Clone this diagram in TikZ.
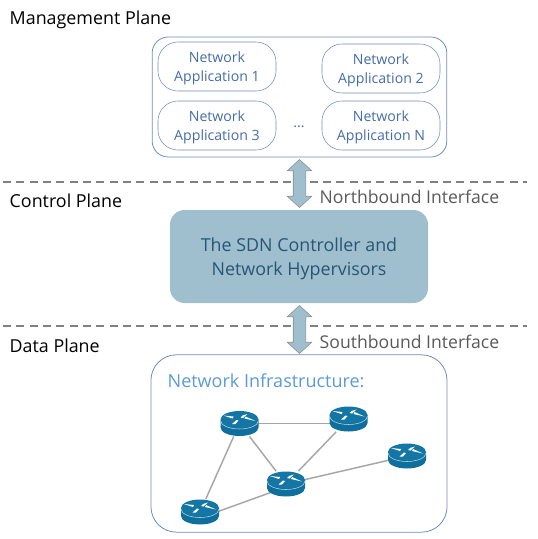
\documentclass[tikz,border=0pt]{standalone}
\usepackage{fontspec}
\setmainfont{Open Sans}
\usetikzlibrary{positioning,shapes.arrows,backgrounds}
\definecolor{appblue}{RGB}{68,108,168}
\definecolor{boxblue}{RGB}{110,140,185}
\definecolor{infrablue}{RGB}{91,155,213}
\definecolor{ctrlfill}{RGB}{160,191,206}
\definecolor{ctrltext}{RGB}{40,85,115}
\definecolor{routerblue}{RGB}{14,110,156}
\definecolor{routertop}{RGB}{20,118,165}
\definecolor{labelgray}{RGB}{89,89,89}

\begin{document}
\begin{tikzpicture}[
  x=0.75pt, y=-0.75pt,
  every node/.style={font=\small},
  plane/.style={anchor=west, text depth=0pt, font=\fontsize{13.4}{16}\selectfont, text=black},
  iface/.style={anchor=west, font=\fontsize{13.2}{16}\selectfont, text=labelgray},
  divider/.style={dashed, dash pattern=on 6pt off 4pt, thick, color=gray},
  outer/.style={rectangle, rounded corners=12pt, draw=boxblue, semithick, inner sep=0pt},
  app/.style={rectangle, rounded corners=15pt, draw=boxblue, minimum width=88.5pt, minimum height=36.75pt, inner sep=0pt, align=center, text depth=0pt, text=appblue, font=\fontsize{10.6}{14}\selectfont},
  ctrl/.style={rectangle, rounded corners=11pt, fill=ctrlfill, minimum width=193.5pt, minimum height=69.75pt, align=center, text depth=0pt, text=ctrltext, font=\fontsize{13.4}{18}\selectfont},
  link/.style={color=gray!70, line width=1.1pt},
  updown/.style={double arrow, shape border rotate=90, draw=gray!90, fill=ctrlfill, minimum height=36pt, double arrow head extend=4.5pt, inner sep=4.5pt, double arrow tip angle=95},
  router/.style={minimum width=28pt, minimum height=19pt, inner sep=0pt}
]
  \useasboundingbox (0,0) rectangle (538,539);

  % planes
  \node[plane] (mgmt) at (5,18)  {Management Plane};
  \node[plane] (cont) at (5,201) {Control Plane};
  \node[plane] (data) at (5,346) {Data Plane};

  \coordinate (d1l) at (3,182);
  \coordinate (d1r) at (527,182);
  \coordinate (d2l) at (3,326);
  \coordinate (d2r) at (527,326);
  \draw[divider] (d1l) -- (d1r);
  \draw[divider] (d2l) -- (d2r);

  % management box
  \node[outer, minimum width=221pt, minimum height=90pt] (appbox) at (299.5,97) {};
  \node[app] (app1) at (217,66.5)  {Network\\Application 1};
  \node[app] (app2) at (381,68.5)  {Network\\Application 2};
  \node[app] (app3) at (217,125.5) {Network\\Application 3};
  \node[app] (appn) at (381,125.5) {Network\\Application N};
  \node[text=appblue, font=\fontsize{10.6}{14}\selectfont] (dots) at (299,127) {...};

  % controller
  \node[ctrl] (sdn) at (299,256.5) {The SDN Controller and\\Network Hypervisors};

  \node[updown] (north) at (299.5,183.5) {};
  \node[updown] (south) at (299.5,329.5) {};
  \node[iface] (nlabel) at (315,197) {Northbound Interface};
  \node[iface] (slabel) at (315,342) {Southbound Interface};

  % infrastructure
  \node[outer, rounded corners=19pt, minimum width=222pt, minimum height=133pt] (infra) at (299,443.5) {};
  \node[anchor=west, text=infrablue, font=\fontsize{13.5}{16}\selectfont] (infralabel) at (163,381) {Network Infrastructure:};

  \node[router] (r1) at (239.5,423.5) {};
  \node[router] (r2) at (348.5,419)   {};
  \node[router] (r3) at (407,456)     {};
  \node[router] (r4) at (286,484)     {};
  \node[router] (r5) at (200,512)     {};

  \foreach \a/\b in {r1/r4,r1/r5,r2/r4,r3/r4}
    \draw[link] (\a) -- (\b);
  \draw[link] (r1) -- ([shift={(0,4.5)}]r2.center);
  \draw[link] ([shift={(0,3)}]r4.center) -- ([shift={(0,6)}]r5.center);

  \foreach \n in {r1,r2,r3,r4,r5} {
    \begin{scope}[shift={(\n.center)}]
      \fill[routerblue] (-19,-4) -- (-19,4) arc[start angle=180, end angle=0, x radius=19, y radius=8.5] -- (19,-4) -- cycle;
      \fill[routertop] (0,-4) ellipse[x radius=19, y radius=8.5];
      \draw[white!75!routerblue, line width=0.4pt] (-19,-3) arc[start angle=180, end angle=0, x radius=19, y radius=8.5];
      \fill[white] (-16,-8) -- (-6,-7) -- (-7,-5) -- cycle;
      \fill[white] (8,-9.5) -- (3,-8) -- (1,-6) -- (3.5,-5.5) -- cycle;
      \fill[white] (16,-2.5) -- (6,-7) -- (5,-5) -- cycle;
      \fill[white] (-7.5,0.5) -- (-3,-3.5) -- (-1,-3) -- (-4,0.5) -- cycle;
    \end{scope}
  }
\end{tikzpicture}
\end{document}
